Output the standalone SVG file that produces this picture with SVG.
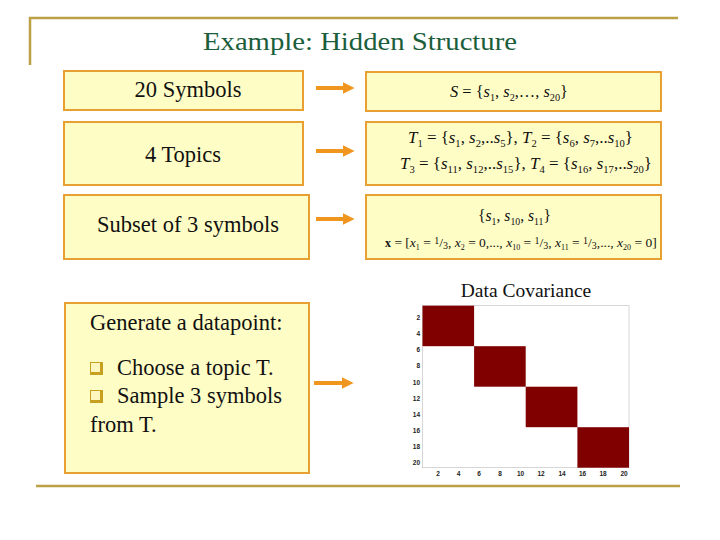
<svg xmlns="http://www.w3.org/2000/svg" width="720" height="540" viewBox="0 0 720 540">
<style>
.frame{stroke:#BBA044;stroke-width:2.5;fill:none}
.box{fill:#FFFDC6;stroke:#E8A032;stroke-width:2}
.lbl{font-family:"Liberation Serif",serif;font-size:22.5px;fill:#111}
.m{font-family:"Liberation Serif",serif;font-size:16px;fill:#111}
.i{font-style:italic}
.sb{font-size:10px}
.tk{font-family:"Liberation Sans",Arial,sans-serif;font-size:6.5px;font-weight:bold;fill:#222}
.arrow{stroke:#F0961E;stroke-width:4;fill:none}
.blk{fill:#800000}
</style>
<defs>
<marker id="ah" viewBox="0 0 10 10" refX="2" refY="5" markerWidth="3" markerHeight="3.2" orient="auto" markerUnits="strokeWidth">
<path d="M0,0 L10,5 L0,10 z" fill="#F0961E"/>
</marker>
<g id="cb">
<rect x="0" y="0" width="13" height="13" fill="#C8A020"/>
<rect x="1" y="1" width="9" height="9" fill="#FFF6C0"/>
</g>
</defs>

<g id="frame">
<path class="frame" d="M30,65 V18 H678"/>
<path class="frame" d="M36,486 H680"/>
</g>

<g id="title">
<text x="360" y="50" text-anchor="middle" font-family="'Liberation Serif',serif" font-size="25" fill="#1B5E3B" textLength="314" lengthAdjust="spacingAndGlyphs">Example: Hidden Structure</text>
</g>

<g id="n-symbols">
<rect class="box" x="64" y="71" width="239" height="39"/>
<text class="lbl" x="188" y="97" text-anchor="middle">20 Symbols</text>
</g>
<g id="n-topics">
<rect class="box" x="64" y="122" width="239" height="63"/>
<text class="lbl" x="183" y="162" text-anchor="middle">4 Topics</text>
</g>
<g id="n-subset">
<rect class="box" x="64" y="195" width="245" height="64"/>
<text class="lbl" x="188" y="232" text-anchor="middle">Subset of 3 symbols</text>
</g>

<g id="n-S">
<rect class="box" x="366" y="72" width="295" height="39"/>
<text class="m" x="450" y="97" textLength="118" lengthAdjust="spacingAndGlyphs"><tspan class="i">S</tspan> = {<tspan class="i">s</tspan><tspan class="sb" dy="4">1</tspan><tspan dy="-4">, </tspan><tspan class="i">s</tspan><tspan class="sb" dy="4">2</tspan><tspan dy="-4">,…, </tspan><tspan class="i">s</tspan><tspan class="sb" dy="4">20</tspan><tspan dy="-4">}</tspan></text>
</g>

<g id="n-T">
<rect class="box" x="366" y="122" width="295" height="63"/>
<text class="m" x="408" y="143" textLength="225" lengthAdjust="spacingAndGlyphs"><tspan class="i">T</tspan><tspan class="sb" dy="4">1</tspan><tspan dy="-4"> = {</tspan><tspan class="i">s</tspan><tspan class="sb" dy="4">1</tspan><tspan dy="-4">, </tspan><tspan class="i">s</tspan><tspan class="sb" dy="4">2</tspan><tspan dy="-4">,..</tspan><tspan class="i">s</tspan><tspan class="sb" dy="4">5</tspan><tspan dy="-4">}, </tspan><tspan class="i">T</tspan><tspan class="sb" dy="4">2</tspan><tspan dy="-4"> = {</tspan><tspan class="i">s</tspan><tspan class="sb" dy="4">6</tspan><tspan dy="-4">, </tspan><tspan class="i">s</tspan><tspan class="sb" dy="4">7</tspan><tspan dy="-4">,..</tspan><tspan class="i">s</tspan><tspan class="sb" dy="4">10</tspan><tspan dy="-4">}</tspan></text>
<text class="m" x="400" y="169" textLength="252" lengthAdjust="spacingAndGlyphs"><tspan class="i">T</tspan><tspan class="sb" dy="4">3</tspan><tspan dy="-4"> = {</tspan><tspan class="i">s</tspan><tspan class="sb" dy="4">11</tspan><tspan dy="-4">, </tspan><tspan class="i">s</tspan><tspan class="sb" dy="4">12</tspan><tspan dy="-4">,..</tspan><tspan class="i">s</tspan><tspan class="sb" dy="4">15</tspan><tspan dy="-4">}, </tspan><tspan class="i">T</tspan><tspan class="sb" dy="4">4</tspan><tspan dy="-4"> = {</tspan><tspan class="i">s</tspan><tspan class="sb" dy="4">16</tspan><tspan dy="-4">, </tspan><tspan class="i">s</tspan><tspan class="sb" dy="4">17</tspan><tspan dy="-4">,..</tspan><tspan class="i">s</tspan><tspan class="sb" dy="4">20</tspan><tspan dy="-4">}</tspan></text>
</g>

<g id="n-x">
<rect class="box" x="366" y="195" width="295" height="64"/>
<text class="m" x="478" y="221" textLength="73" lengthAdjust="spacingAndGlyphs">{<tspan class="i">s</tspan><tspan class="sb" dy="4">1</tspan><tspan dy="-4">, </tspan><tspan class="i">s</tspan><tspan class="sb" dy="4">10</tspan><tspan dy="-4">, </tspan><tspan class="i">s</tspan><tspan class="sb" dy="4">11</tspan><tspan dy="-4">}</tspan></text>
<text class="m" x="385" y="247" style="font-size:13.5px"><tspan font-weight="bold" font-size="12">x</tspan>  = [<tspan class="i">x</tspan><tspan font-size="8" dy="3">1</tspan><tspan dy="-3"> = </tspan><tspan font-size="10" dy="-3">1</tspan><tspan dy="3">/</tspan><tspan font-size="10" dy="2">3</tspan><tspan dy="-2">, </tspan><tspan class="i">x</tspan><tspan font-size="8" dy="3">2</tspan><tspan dy="-3"> = 0,..., </tspan><tspan class="i">x</tspan><tspan font-size="8" dy="3">10</tspan><tspan dy="-3"> = </tspan><tspan font-size="10" dy="-3">1</tspan><tspan dy="3">/</tspan><tspan font-size="10" dy="2">3</tspan><tspan dy="-2">, </tspan><tspan class="i">x</tspan><tspan font-size="8" dy="3">11</tspan><tspan dy="-3"> = </tspan><tspan font-size="10" dy="-3">1</tspan><tspan dy="3">/</tspan><tspan font-size="10" dy="2">3</tspan><tspan dy="-2">,..., </tspan><tspan class="i">x</tspan><tspan font-size="8" dy="3">20</tspan><tspan dy="-3"> = 0]</tspan></text>
</g>

<g id="n-generate">
<rect class="box" x="65" y="303" width="244" height="170"/>
<text class="lbl" x="90" y="330">Generate a datapoint:</text>
<use href="#cb" x="90" y="362"/>
<text class="lbl" x="117" y="375">Choose a topic T.</text>
<use href="#cb" x="90" y="390"/>
<text class="lbl" x="117" y="403">Sample 3 symbols</text>
<text class="lbl" x="90" y="432">from T.</text>
</g>

<g id="n-covariance">
<text x="526" y="297" text-anchor="middle" font-family="'Liberation Serif',serif" font-size="19.5" fill="#111">Data Covariance</text>
<rect x="422.5" y="305.7" width="206.5" height="162" fill="#fff" stroke="#bbb" stroke-width="0.6"/>
<rect class="blk" x="422.5" y="305.7" width="51.6" height="40.5"/>
<rect class="blk" x="474.1" y="346.2" width="51.6" height="40.5"/>
<rect class="blk" x="525.7" y="386.7" width="51.7" height="40.5"/>
<rect class="blk" x="577.4" y="427.2" width="51.6" height="40.5"/>
<g class="tk" text-anchor="end">
<text x="420" y="320">2</text><text x="420" y="336">4</text><text x="420" y="352">6</text><text x="420" y="368">8</text><text x="420" y="384.5">10</text><text x="420" y="400.5">12</text><text x="420" y="416.5">14</text><text x="420" y="433">16</text><text x="420" y="449">18</text><text x="420" y="465">20</text>
</g>
<g class="tk" text-anchor="middle">
<text x="438" y="476">2</text><text x="458.5" y="476">4</text><text x="479" y="476">6</text><text x="500" y="476">8</text><text x="520.5" y="476">10</text><text x="541" y="476">12</text><text x="562" y="476">14</text><text x="582.5" y="476">16</text><text x="603" y="476">18</text><text x="624" y="476">20</text>
</g>
</g>

<g id="connectors">
<line class="arrow" x1="316" y1="88" x2="345" y2="88" marker-end="url(#ah)"/>
<line class="arrow" x1="316" y1="151" x2="345" y2="151" marker-end="url(#ah)"/>
<line class="arrow" x1="316" y1="219" x2="345" y2="219" marker-end="url(#ah)"/>
<line class="arrow" x1="314" y1="383" x2="344" y2="383" marker-end="url(#ah)"/>
</g>
</svg>
